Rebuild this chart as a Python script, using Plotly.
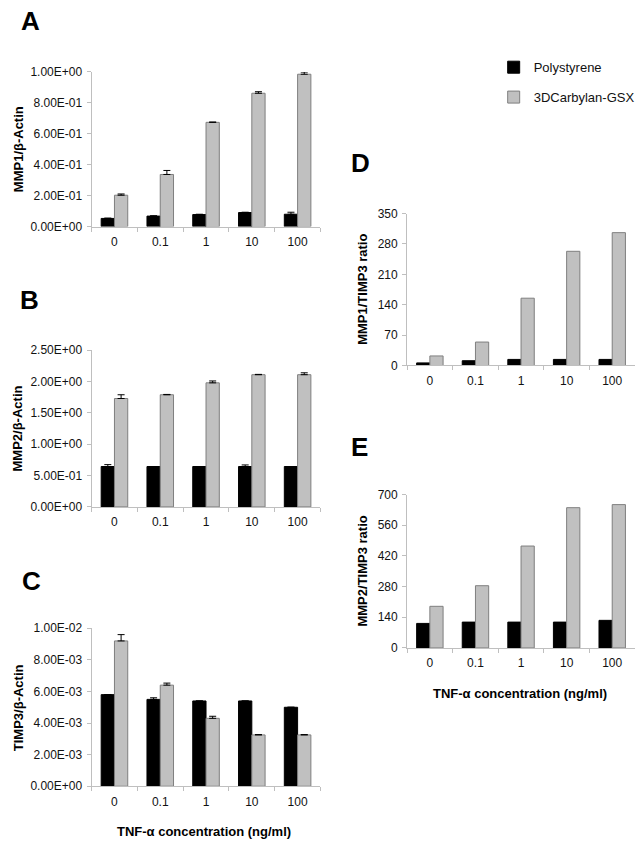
import plotly.graph_objects as go

W, H = 640, 850

categories = ["0", "0.1", "1", "10", "100"]
series_names = ["Polystyrene", "3DCarbylan-GSX"]

# Panel A: MMP1/beta-Actin
a_poly = [0.053, 0.068, 0.078, 0.091, 0.080]
a_poly_err = [0.002, 0.002, 0.002, 0.002, 0.013]
a_gsx = [0.203, 0.337, 0.674, 0.862, 0.985]
a_gsx_err = [0.008, 0.026, 0.002, 0.010, 0.014]
a_ticks = [0, 0.2, 0.4, 0.6, 0.8, 1.0]
a_ticktext = ["0.00E+00", "2.00E-01", "4.00E-01", "6.00E-01", "8.00E-01", "1.00E+00"]

# Panel B: MMP2/beta-Actin
b_poly = [0.645, 0.645, 0.645, 0.645, 0.645]
b_poly_err = [0.03, 0.0, 0.0, 0.025, 0.0]
b_gsx = [1.73, 1.79, 1.98, 2.11, 2.11]
b_gsx_err = [0.06, 0.005, 0.03, 0.005, 0.03]
b_ticks = [0, 0.5, 1.0, 1.5, 2.0, 2.5]
b_ticktext = ["0.00E+00", "5.00E-01", "1.00E+00", "1.50E+00", "2.00E+00", "2.50E+00"]

# Panel C: TIMP3/beta-Actin
c_poly = [0.0058, 0.0055, 0.0054, 0.0054, 0.0050]
c_poly_err = [0.0, 0.0001, 0.0, 0.0, 0.0]
c_gsx = [0.0092, 0.0064, 0.0043, 0.00325, 0.00325]
c_gsx_err = [0.0004, 0.00013, 0.00013, 0.00002, 0.00002]
c_ticks = [0, 0.002, 0.004, 0.006, 0.008, 0.010]
c_ticktext = ["0.00E+00", "2.00E-03", "4.00E-03", "6.00E-03", "8.00E-03", "1.00E-02"]

# Panel D: MMP1/TIMP3 ratio
d_poly = [6, 11, 14, 14, 14]
d_gsx = [22, 54, 155, 263, 306]
d_ticks = [0, 70, 140, 210, 280, 350]

# Panel E: MMP2/TIMP3 ratio
e_poly = [112, 118, 118, 118, 126]
e_gsx = [190, 284, 465, 640, 654]
e_ticks = [0, 140, 280, 420, 560, 700]

panel_letters = ["A", "B", "C", "D", "E"]
y_titles = ["MMP1/β-Actin", "MMP2/β-Actin", "TIMP3/β-Actin",
            "MMP1/TIMP3 ratio", "MMP2/TIMP3 ratio"]
x_title = "TNF-α concentration (ng/ml)"

FONT = "Liberation Sans, Arial, sans-serif"
BLACK = "#000000"
GRAY = "#C0C0C0"
GRAY_EDGE = "#7F7F7F"
AXIS = "#BFBFBF"


def fx(px):
    return px / W


def fy(py):
    return 1 - py / H


# panel geometry in pixels: (x0, x1, ytop, ybottom)
geom = [
    (92, 322, 66, 223.3),
    (92, 322, 349, 508.3),
    (92, 322, 631.7, 792.3),
    (409, 638, 210, 364.5),
    (409, 638, 495.7, 651.7),
]
letter_pos = [(19, 14), (18, 298), (20, 584), (351, 159), (351, 447)]

panels = [
    (a_poly, a_poly_err, a_gsx, a_gsx_err, a_ticks, a_ticktext),
    (b_poly, b_poly_err, b_gsx, b_gsx_err, b_ticks, b_ticktext),
    (c_poly, c_poly_err, c_gsx, c_gsx_err, c_ticks, c_ticktext),
    (d_poly, None, d_gsx, None, d_ticks, [str(v) for v in d_ticks]),
    (e_poly, None, e_gsx, None, e_ticks, [str(v) for v in e_ticks]),
]

fig = go.Figure()
layout = dict(
    width=W, height=H,
    margin=dict(l=0, r=0, t=0, b=0),
    paper_bgcolor="white", plot_bgcolor="white",
    barmode="group", bargap=0.42, bargroupgap=0,
    font=dict(family=FONT, size=12, color="#111111"),
    showlegend=True,
    legend=dict(x=fx(496), y=fy(46), xanchor="left", yanchor="top",
                font=dict(family=FONT, size=13, color="#111111"),
                traceorder="grouped", tracegroupgap=10,
                bgcolor="rgba(0,0,0,0)"),
)
annotations = []

for i, (poly, poly_err, gsx, gsx_err, ticks, ticktext) in enumerate(panels):
    n = "" if i == 0 else str(i + 1)
    x0, x1, yt, yb = geom[i]
    xa, ya = "x" + n, "y" + n

    def err(e):
        if e is None:
            return None
        return dict(type="data", symmetric=False, array=e,
                    arrayminus=[0] * len(e), color=BLACK, thickness=1, width=3.5)

    fig.add_trace(go.Bar(
        x=categories, y=poly, name=series_names[0], xaxis=xa, yaxis=ya,
        marker=dict(color=BLACK, line=dict(color=BLACK, width=1)),
        error_y=err(poly_err), showlegend=(i == 0), legendgroup="g1",
    ))
    fig.add_trace(go.Bar(
        x=categories, y=gsx, name=series_names[1], xaxis=xa, yaxis=ya,
        marker=dict(color=GRAY, line=dict(color=GRAY_EDGE, width=1)),
        error_y=err(gsx_err), showlegend=(i == 0), legendgroup="g2",
    ))

    layout["xaxis" + n] = dict(
        domain=[fx(x0), fx(x1)], anchor=ya, type="category",
        showline=True, linecolor=AXIS, linewidth=1,
        ticks="outside", tickson="boundaries", ticklen=4, tickcolor=AXIS,
        showgrid=False, zeroline=False, ticklabelstandoff=4,
        tickfont=dict(family=FONT, size=12, color="#111111"),
        fixedrange=True,
    )
    layout["yaxis" + n] = dict(
        domain=[fy(yb), fy(yt)], anchor=xa, range=[0, ticks[-1]],
        tickvals=ticks, ticktext=ticktext,
        showline=True, linecolor=AXIS, linewidth=1,
        ticks="outside", ticklen=4, tickcolor=AXIS,
        showgrid=False, zeroline=False, ticklabelstandoff=2,
        tickfont=dict(family=FONT, size=12, color="#111111"),
        fixedrange=True,
    )

    lx, ly = letter_pos[i]
    annotations.append(dict(
        text="<b>%s</b>" % panel_letters[i], xref="paper", yref="paper",
        x=fx(lx), y=fy(ly), xanchor="left", yanchor="middle", showarrow=False,
        font=dict(family=FONT, size=26, color=BLACK),
    ))
    annotations.append(dict(
        text="<b>%s</b>" % y_titles[i], xref="paper", yref="paper",
        x=fx(18 if i < 3 else 364), y=fy((yt + yb) / 2),
        xanchor="center", yanchor="middle", textangle=-90, showarrow=False,
        font=dict(family=FONT, size=13, color=BLACK),
    ))

annotations.append(dict(
    text="<b>%s</b>" % x_title, xref="paper", yref="paper",
    x=fx(205), y=fy(838), xanchor="center", yanchor="middle", showarrow=False,
    font=dict(family=FONT, size=13, color=BLACK),
))
annotations.append(dict(
    text="<b>%s</b>" % x_title, xref="paper", yref="paper",
    x=fx(522), y=fy(698), xanchor="center", yanchor="middle", showarrow=False,
    font=dict(family=FONT, size=13, color=BLACK),
))

layout["annotations"] = annotations
fig.update_layout(**layout)
fig.write_html(
    "out.html",
    config={"displayModeBar": False, "staticPlot": True},
    post_script="document.body.style.margin='0';document.body.style.overflow='hidden';",
)
